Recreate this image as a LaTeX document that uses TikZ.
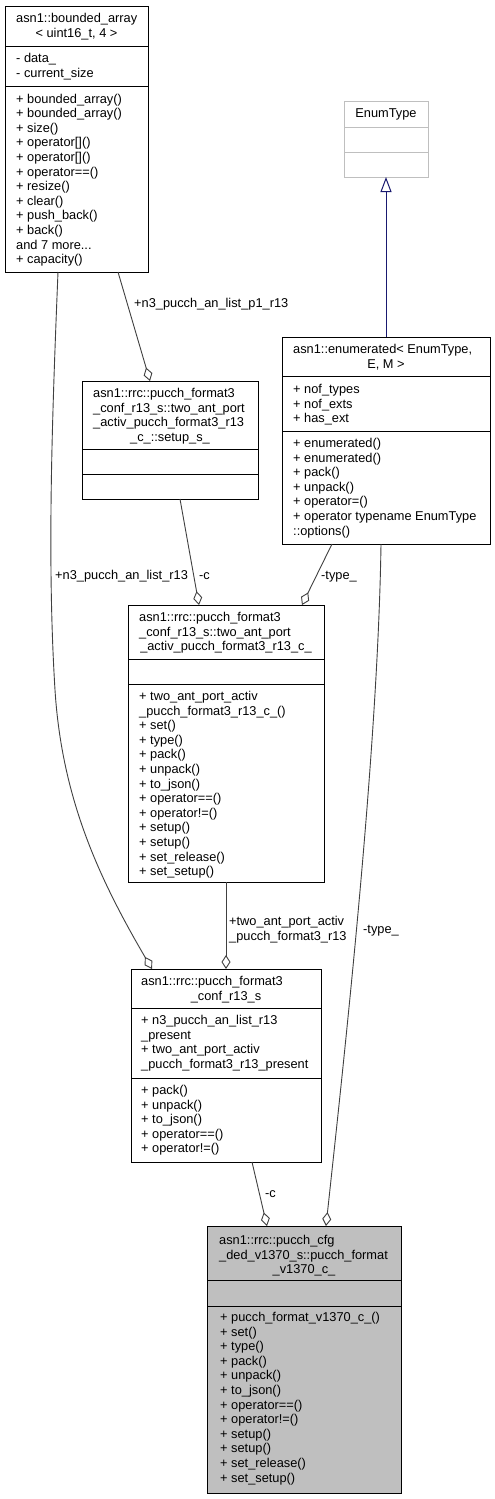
\documentclass[tikz,border=0pt]{standalone}
\usepackage{fontspec}
\setmainfont{Liberation Sans}
\usetikzlibrary{arrows.meta}
\definecolor{edgegray}{HTML}{404040}
\definecolor{boxgray}{HTML}{BFBFBF}
\definecolor{inhblue}{HTML}{191970}
\begin{document}
\begin{tikzpicture}[x=1pt,y=-1pt,
  box/.style={draw=black, line width=1pt, anchor=north west, inner sep=0pt, outer sep=0pt},
  txt/.style={anchor=base west, inner sep=0pt, align=left, font=\fontsize{12.8}{14.6}\selectfont},
  mtxt/.style={txt, yshift={(1-#1)*14.6pt}},
  ctxt/.style={anchor=base, inner sep=0pt, font=\fontsize{12.8}{14.6}\selectfont},
  sepline/.style={draw=black, line width=1pt},
  agg/.style={draw=edgegray, line width=0.9pt, -{Diamond[open, length=14pt, width=9pt, line width=0.9pt]}},
  inh/.style={draw=inhblue, line width=1pt, -{Triangle[open, length=15pt, width=11pt, line width=1pt]}}
]
\useasboundingbox (0,0) rectangle (495,1499);
\fill[white] (0,0) rectangle (495,1499);

% ---- boxes
\node[box, minimum width=143pt, minimum height=266pt] (ba) at (5,6) {};
\draw[sepline] ([yshift=-40pt]ba.north west) -- ([yshift=-40pt]ba.north east);
\draw[sepline] ([yshift=-80pt]ba.north west) -- ([yshift=-80pt]ba.north east);

\node[box, draw=boxgray, minimum width=84pt, minimum height=76pt] (et) at (344,101) {};
\draw[draw=boxgray, line width=1pt] ([yshift=-26pt]et.north west) -- ([yshift=-26pt]et.north east);
\draw[draw=boxgray, line width=1pt] ([yshift=-51pt]et.north west) -- ([yshift=-51pt]et.north east);

\node[box, minimum width=208pt, minimum height=207pt] (en) at (282,337) {};
\draw[sepline] ([yshift=-39pt]en.north west) -- ([yshift=-39pt]en.north east);
\draw[sepline] ([yshift=-94pt]en.north west) -- ([yshift=-94pt]en.north east);

\node[box, minimum width=176pt, minimum height=118pt] (ss) at (82,381) {};
\draw[sepline] ([yshift=-68pt]ss.north west) -- ([yshift=-68pt]ss.north east);
\draw[sepline] ([yshift=-93pt]ss.north west) -- ([yshift=-93pt]ss.north east);

\node[box, minimum width=196pt, minimum height=277pt] (tc) at (128,605) {};
\draw[sepline] ([yshift=-54pt]tc.north west) -- ([yshift=-54pt]tc.north east);
\draw[sepline] ([yshift=-79pt]tc.north west) -- ([yshift=-79pt]tc.north east);

\node[box, minimum width=190pt, minimum height=193pt] (cs) at (131,969) {};
\draw[sepline] ([yshift=-39pt]cs.north west) -- ([yshift=-39pt]cs.north east);
\draw[sepline] ([yshift=-109pt]cs.north west) -- ([yshift=-109pt]cs.north east);

\node[box, fill=boxgray, minimum width=194pt, minimum height=267pt] (tg) at (207,1226) {};
\draw[sepline] ([yshift=-54pt]tg.north west) -- ([yshift=-54pt]tg.north east);
\draw[sepline] ([yshift=-80pt]tg.north west) -- ([yshift=-80pt]tg.north east);

% ---- texts: bounded_array
\node[txt] (bat1) at (16,22.5) {asn1::bounded\_array};
\node[ctxt] (bat2) at (76.5,37) {< uint16\_t, 4 >};
\node[mtxt=2] (baa) at (16,62.5) {- data\_\\- current\_size};
\node[mtxt=12] (bam) at (16,103) {+ bounded\_array()\\+ bounded\_array()\\+ size()\\+ operator[]()\\+ operator[]()\\+ operator==()\\+ resize()\\+ clear()\\+ push\_back()\\+ back()\\and 7 more...\\+ capacity()};

% EnumType
\node[ctxt] (ett) at (386,117.5) {EnumType};

% enumerated
\node[txt] (ent1) at (293,353.5) {asn1::enumerated< EnumType,};
\node[ctxt] (ent2) at (386,368) {E, M >};
\node[mtxt=3] (ena) at (293,393.5) {+ nof\_types\\+ nof\_exts\\+ has\_ext};
\node[mtxt=7] (enm) at (293,447.5) {+ enumerated()\\+ enumerated()\\+ pack()\\+ unpack()\\+ operator=()\\+ operator typename EnumType\\::options()};

% setup_s_
\node[mtxt=3] (sst1) at (93,397.5) {asn1::rrc::pucch\_format3\\\_conf\_r13\_s::two\_ant\_port\\\_activ\_pucch\_format3\_r13};
\node[ctxt] (sst2) at (170,441) {\_c\_::setup\_s\_};

% two_ant_port_activ c_
\node[mtxt=2] (tct1) at (139,621.5) {asn1::rrc::pucch\_format3\\\_conf\_r13\_s::two\_ant\_port};
\node[ctxt] (tct2) at (226,650.5) {\_activ\_pucch\_format3\_r13\_c\_};
\node[mtxt=13] (tcm) at (139,700.5) {+ two\_ant\_port\_activ\\\_pucch\_format3\_r13\_c\_()\\+ set()\\+ type()\\+ pack()\\+ unpack()\\+ to\_json()\\+ operator==()\\+ operator!=()\\+ setup()\\+ setup()\\+ set\_release()\\+ set\_setup()};

% conf_r13_s
\node[txt] (cst1) at (141,985.5) {asn1::rrc::pucch\_format3};
\node[ctxt] (cst2) at (226,1000) {\_conf\_r13\_s};
\node[mtxt=4] (csa) at (141,1024.5) {+ n3\_pucch\_an\_list\_r13\\\_present\\+ two\_ant\_port\_activ\\\_pucch\_format3\_r13\_present};
\node[mtxt=5] (csm) at (141,1094.5) {+ pack()\\+ unpack()\\+ to\_json()\\+ operator==()\\+ operator!=()};

% target
\node[mtxt=2] (tgt1) at (219,1244.5) {asn1::rrc::pucch\_cfg\\\_ded\_v1370\_s::pucch\_format};
\node[ctxt] (tgt2) at (304,1273.5) {\_v1370\_c\_};
\node[mtxt=12] (tgm) at (220,1321.5) {+ pucch\_format\_v1370\_c\_()\\+ set()\\+ type()\\+ pack()\\+ unpack()\\+ to\_json()\\+ operator==()\\+ operator!=()\\+ setup()\\+ setup()\\+ set\_release()\\+ set\_setup()};

% ---- connectors
\draw[inh] ([xshift=104pt]en.north west) -- ([xshift=42pt]et.south west);

\draw[agg] ([xshift=113pt]ba.south west) -- ([xshift=68pt]ss.north west);
\draw[agg] ([xshift=53pt]ba.south west) .. controls (52,420) and (47,560) .. (55,690)
   .. controls (62,800) and (100,880) .. ([xshift=21pt]cs.north west);
\draw[agg] ([xshift=98pt]ss.south west) -- ([xshift=71pt]tc.north west);
\draw[agg] ([xshift=50pt]en.south west) -- ([xshift=174pt]tc.north west);
\draw[agg] ([xshift=98pt]tc.south west) -- ([xshift=95pt]cs.north west);
\draw[agg] ([xshift=121pt]cs.south west) -- ([xshift=60pt]tg.north west);
\draw[agg] ([xshift=99pt]en.south west) .. controls (378,750) and (345,1050) .. ([xshift=119pt]tg.north west);

% ---- labels
\node[txt] (l1) at (134,307.5) {+n3\_pucch\_an\_list\_p1\_r13};
\node[txt] (l2) at (55,579.5) {+n3\_pucch\_an\_list\_r13};
\node[txt] (l3) at (199,579.5) {-c};
\node[txt] (l4) at (321,579.5) {-type\_};
\node[mtxt=2] (l5) at (229,925.5) {+two\_ant\_port\_activ\\\_pucch\_format3\_r13};
\node[txt] (l6) at (363,933) {-type\_};
\node[txt] (l7) at (265,1197.5) {-c};
\end{tikzpicture}
\end{document}
